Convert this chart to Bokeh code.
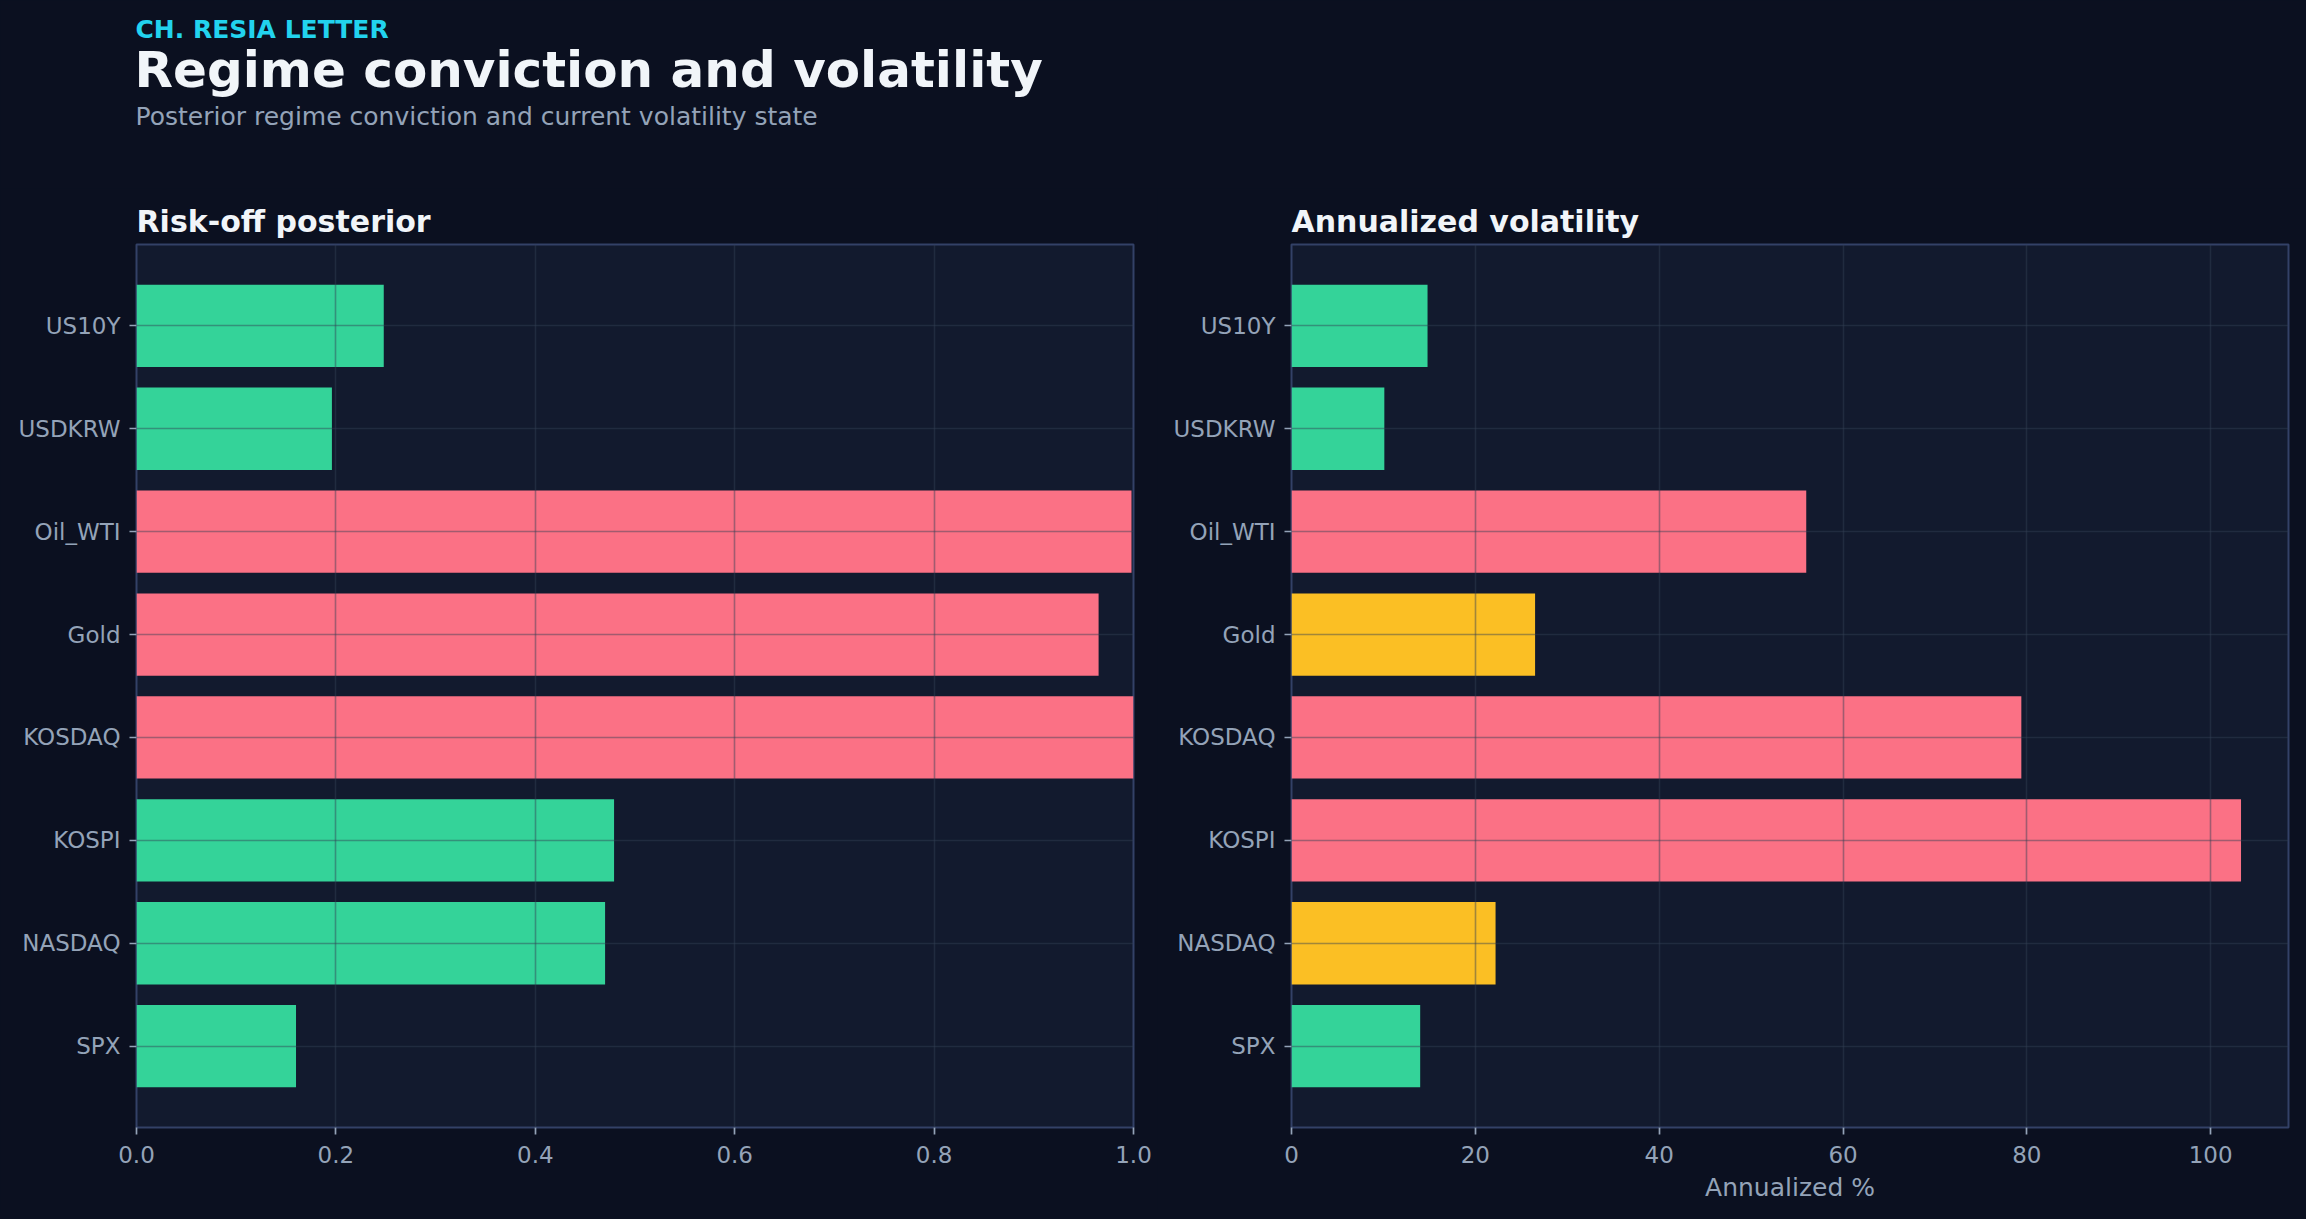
from bokeh.plotting import figure
from bokeh.models import (Range1d, FactorRange, Label, FixedTicker,
                          NumeralTickFormatter, ColumnDataSource)
from bokeh.layouts import column, row
from bokeh.embed import file_html
from bokeh.resources import INLINE

# ---------------- data ----------------
assets = ["US10Y", "USDKRW", "Oil_WTI", "Gold", "KOSDAQ", "KOSPI", "NASDAQ", "SPX"]
risk_off_posterior = [0.248, 0.196, 0.998, 0.965, 1.000, 0.479, 0.470, 0.160]
posterior_state = ["calm", "calm", "stress", "stress", "stress", "calm", "calm", "calm"]
annualized_vol = [14.8, 10.1, 56.0, 26.5, 79.4, 103.3, 22.2, 14.0]
vol_state = ["calm", "calm", "stress", "elevated", "stress", "stress", "elevated", "calm"]
left_ticks = [0.0, 0.2, 0.4, 0.6, 0.8, 1.0]
right_ticks = [0, 20, 40, 60, 80, 100]

kicker = "CH. RESIA LETTER"
headline = "Regime conviction and volatility"
subhead = "Posterior regime conviction and current volatility state"
left_title = "Risk-off posterior"
right_title = "Annualized volatility"
right_xlabel = "Annualized %"

# ---------------- style ----------------
FONT = "DejaVu Sans"
PAGE_BG = "#0b1020"
PLOT_BG = "#121a2e"
SPINE = "#334167"
GRID = "#334155"
MUTED = "#94a3b8"
WHITE = "#f1f5f9"
CYAN = "#22d3ee"
state_colors = {"calm": "#34d399", "elevated": "#fbbf24", "stress": "#fb7185"}

TOTAL_W = 2306
HDR_H = 188


def make_panel(title, values, states, xmax, ticks, fmt, xlabel, b_left, b_right):
    factors = list(reversed(assets))
    p = figure(
        title=title,
        y_range=FactorRange(factors=factors, range_padding=0.29,
                            range_padding_units="absolute"),
        x_range=Range1d(0, xmax),
        frame_width=997, frame_height=883,
        min_border_left=b_left, min_border_right=b_right,
        min_border_top=56, min_border_bottom=86,
        output_backend="svg", toolbar_location=None, tools="",
        background_fill_color=PLOT_BG, border_fill_color=PAGE_BG,
        outline_line_color=SPINE, outline_line_width=2,
    )
    src = ColumnDataSource(dict(asset=assets, value=values,
                                color=[state_colors[s] for s in states]))
    p.hbar(y="asset", right="value", left=0, height=0.8, fill_color="color",
           line_color=None, source=src)

    p.title.text_font = FONT
    p.title.text_font_size = "30px"
    p.title.text_font_style = "bold"
    p.title.text_color = WHITE
    p.title.align = "left"
    p.title.standoff = 11

    for g in (p.xgrid, p.ygrid):
        g.grid_line_color = GRID
        g.grid_line_alpha = 0.45
        g.grid_line_width = 1.6
        g.level = "overlay"

    p.xaxis.ticker = FixedTicker(ticks=ticks)
    p.xaxis.formatter = NumeralTickFormatter(format=fmt)
    for ax in (p.xaxis, p.yaxis):
        ax.axis_line_color = None
        ax.major_tick_out = 7
        ax.major_tick_in = 0
        ax.major_tick_line_color = MUTED
        ax.major_tick_line_width = 1.7
        ax.minor_tick_line_color = None
        ax.major_label_text_font = FONT
        ax.major_label_text_font_size = "23px"
        ax.major_label_text_color = MUTED
    p.xaxis.major_label_standoff = 11
    p.yaxis.major_label_standoff = 9
    if xlabel:
        p.xaxis.axis_label = xlabel
        p.xaxis.axis_label_text_font = FONT
        p.xaxis.axis_label_text_font_size = "25px"
        p.xaxis.axis_label_text_font_style = "normal"
        p.xaxis.axis_label_text_color = MUTED
        p.xaxis.axis_label_standoff = 7
    return p


# ---------------- header ----------------
hdr = figure(width=TOTAL_W, height=HDR_H, x_range=Range1d(0, TOTAL_W),
             y_range=Range1d(HDR_H, 0), x_axis_type=None, y_axis_type=None,
             output_backend="svg", toolbar_location=None, tools="",
             min_border=0, background_fill_color=PAGE_BG,
             border_fill_color=PAGE_BG, outline_line_color=None)
hdr.grid.visible = False
hdr.add_layout(Label(x=135, y=28.7, text=kicker, text_font=FONT,
                     text_font_size="25px", text_font_style="bold",
                     text_color=CYAN, text_baseline="alphabetic"))
hdr.add_layout(Label(x=134, y=69, text=headline, text_font=FONT,
                     text_font_size="50px", text_font_style="bold",
                     text_color=WHITE, text_baseline="alphabetic"))
hdr.add_layout(Label(x=135, y=116, text=subhead, text_font=FONT,
                     text_font_size="25px", text_color=MUTED,
                     text_baseline="alphabetic"))

left = make_panel(left_title, risk_off_posterior, posterior_state, 1.0,
                  left_ticks, "0.0", None, 136, 24)
right = make_panel(right_title, annualized_vol, vol_state,
                   max(annualized_vol) * 1.05, right_ticks, "0", right_xlabel, 134, 18)

layout = column(hdr, row(left, right, spacing=0), spacing=0)

html = file_html(layout, INLINE, title="Regime conviction and volatility")
html = html.replace("<head>", "<head>\n<style>html, body { background: #0b1020; }</style>", 1)
open("out.html", "w").write(html)
